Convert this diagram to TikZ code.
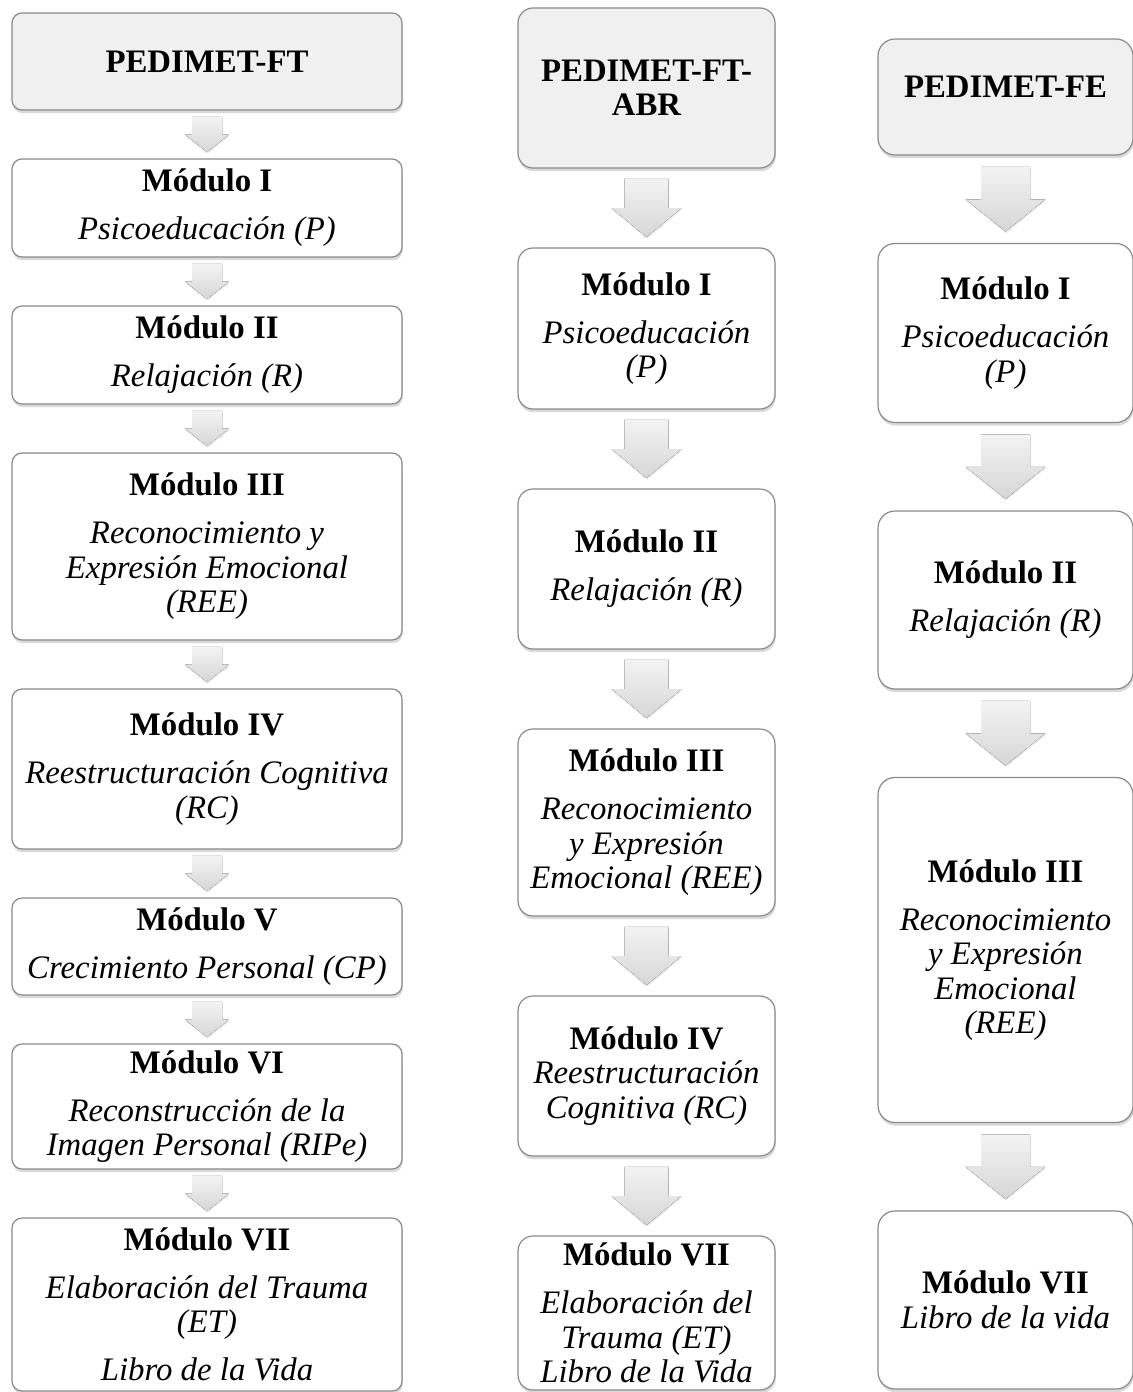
\documentclass[tikz,border=0pt]{standalone}
\usepackage{fontspec}
\setmainfont{Liberation Serif}
\usepackage{tikz}
\usetikzlibrary{positioning, calc, shadows}
\definecolor{boxline}{HTML}{8A8A8A}
\definecolor{hdrfill}{HTML}{F0F0F0}
\definecolor{arrTop}{HTML}{F3F3F3}
\definecolor{arrBot}{HTML}{D6D6D6}

% block arrow between two boxes: from, to, half shaft, half head (px)
\newcommand{\flecha}[4]{%
  \fill[flechafill]
    ($(#1.south)!0.13!(#2.north)+(-#3,0)$) -- ($(#1.south)!0.13!(#2.north)+(#3,0)$)
    -- ($(#1.south)!0.5!(#2.north)+(#3,0)$) -- ($(#1.south)!0.5!(#2.north)+(#4,0)$)
    -- ($(#1.south)!0.87!(#2.north)$)
    -- ($(#1.south)!0.5!(#2.north)+(-#4,0)$) -- ($(#1.south)!0.5!(#2.north)+(-#3,0)$) -- cycle;}

\begin{document}
\begin{tikzpicture}[x=0.5pt, y=-0.5pt,
  box/.style={draw=boxline, line width=0.6pt, fill=white, align=center, inner xsep=3pt, inner ysep=1pt, font=\fontsize{16.4}{17.25}\selectfont, drop shadow={shadow xshift=0.4pt, shadow yshift=-1.6pt, opacity=0.3}},
  hdr/.style={box, fill=hdrfill, font=\fontsize{16.4}{17.25}\selectfont\bfseries},
  colA/.style={minimum width=195pt, rounded corners=5pt},
  colB/.style={minimum width=128.5pt, rounded corners=7.5pt},
  colC/.style={minimum width=127.5pt, rounded corners=8.5pt},
  flechafill/.style={top color=arrTop, bottom color=arrBot, drop shadow={shadow xshift=0.3pt, shadow yshift=-0.8pt, opacity=0.15}}]
\useasboundingbox (0,0) rectangle (1133,1392);

% PEDIMET-FT
\node[hdr, colA, minimum height=48.5pt] (ftH) at (207,61.5) {PEDIMET-FT};
\node[box, colA, minimum height=49pt, below=23.9pt of ftH] (ftI) {\textbf{M\'odulo I}\\[6.75pt]\textit{Psicoeducaci\'on (P)}};
\node[box, colA, minimum height=49pt, below=23.9pt of ftI] (ftII) {\textbf{M\'odulo II}\\[6.75pt]\textit{Relajaci\'on (R)}};
\node[box, colA, minimum height=93.5pt, below=23.9pt of ftII] (ftIII) {\textbf{M\'odulo III}\\[6.75pt]\textit{Reconocimiento y}\\\textit{Expresi\'on Emocional}\\\textit{(REE)}};
\node[box, colA, minimum height=80pt, below=23.9pt of ftIII] (ftIV) {\textbf{M\'odulo IV}\\[6.75pt]\textit{Reestructuraci\'on Cognitiva}\\\textit{(RC)}};
\node[box, colA, minimum height=48.5pt, below=23.9pt of ftIV] (ftV) {\textbf{M\'odulo V}\\[6.75pt]\textit{Crecimiento Personal (CP)}};
\node[box, colA, minimum height=62.5pt, below=23.9pt of ftV] (ftVI) {\textbf{M\'odulo VI}\\[6.75pt]\textit{Reconstrucci\'on de la}\\\textit{Imagen Personal (RIPe)}};
\node[box, colA, minimum height=86.5pt, below=23.9pt of ftVI] (ftVII) {\textbf{M\'odulo VII}\\[6.75pt]\textit{Elaboraci\'on del Trauma}\\\textit{(ET)}\\[6.75pt]\textit{Libro de la Vida}};
\flecha{ftH}{ftI}{15}{22}
\flecha{ftI}{ftII}{15}{22}
\flecha{ftII}{ftIII}{15}{22}
\flecha{ftIII}{ftIV}{15}{22}
\flecha{ftIV}{ftV}{15}{22}
\flecha{ftV}{ftVI}{15}{22}
\flecha{ftVI}{ftVII}{15}{22}

% PEDIMET-FT-ABR
\node[hdr, colB, minimum height=80pt] (abH) at (646.5,88) {PEDIMET-FT-\\ABR};
\node[box, colB, minimum height=80.5pt, below=39.4pt of abH] (abI) {\textbf{M\'odulo I}\\[6.75pt]\textit{Psicoeducaci\'on}\\\textit{(P)}};
\node[box, colB, minimum height=80pt, below=39.4pt of abI] (abII) {\textbf{M\'odulo II}\\[6.75pt]\textit{Relajaci\'on (R)}};
\node[box, colB, minimum height=93.5pt, below=39.4pt of abII] (abIII) {\textbf{M\'odulo III}\\[6.75pt]\textit{Reconocimiento}\\\textit{y Expresi\'on}\\\textit{Emocional (REE)}};
\node[box, colB, minimum height=80pt, below=39.4pt of abIII] (abIV) {\textbf{M\'odulo IV}\\\textit{Reestructuraci\'on}\\\textit{Cognitiva (RC)}};
\node[box, colB, minimum height=77pt, below=39.4pt of abIV] (abVII) {\textbf{M\'odulo VII}\\[6.75pt]\textit{Elaboraci\'on del}\\\textit{Trauma (ET)}\\\textit{Libro de la Vida}};
\flecha{abH}{abI}{22}{35}
\flecha{abI}{abII}{22}{35}
\flecha{abII}{abIII}{22}{35}
\flecha{abIII}{abIV}{22}{35}
\flecha{abIV}{abVII}{22}{35}

% PEDIMET-FE
\node[hdr, colC, minimum height=58pt, text depth=10pt] (feH) at (1005.5,97) {PEDIMET-FE};
\node[box, colC, minimum height=89.5pt, below=43.65pt of feH] (feI) {\textbf{M\'odulo I}\\[6.75pt]\textit{Psicoeducaci\'on}\\\textit{(P)}};
\node[box, colC, minimum height=89pt, below=43.65pt of feI] (feII) {\textbf{M\'odulo II}\\[6.75pt]\textit{Relajaci\'on (R)}};
\node[box, colC, minimum height=172.5pt, below=43.65pt of feII] (feIII) {\textbf{M\'odulo III}\\[6.75pt]\textit{Reconocimiento}\\\textit{y Expresi\'on}\\\textit{Emocional}\\\textit{(REE)}};
\node[box, colC, minimum height=89pt, below=43.65pt of feIII] (feVII) {\textbf{M\'odulo VII}\\\textit{Libro de la vida}};
\flecha{feH}{feI}{24.5}{40}
\flecha{feI}{feII}{24.5}{40}
\flecha{feII}{feIII}{24.5}{40}
\flecha{feIII}{feVII}{24.5}{40}
\end{tikzpicture}
\end{document}
